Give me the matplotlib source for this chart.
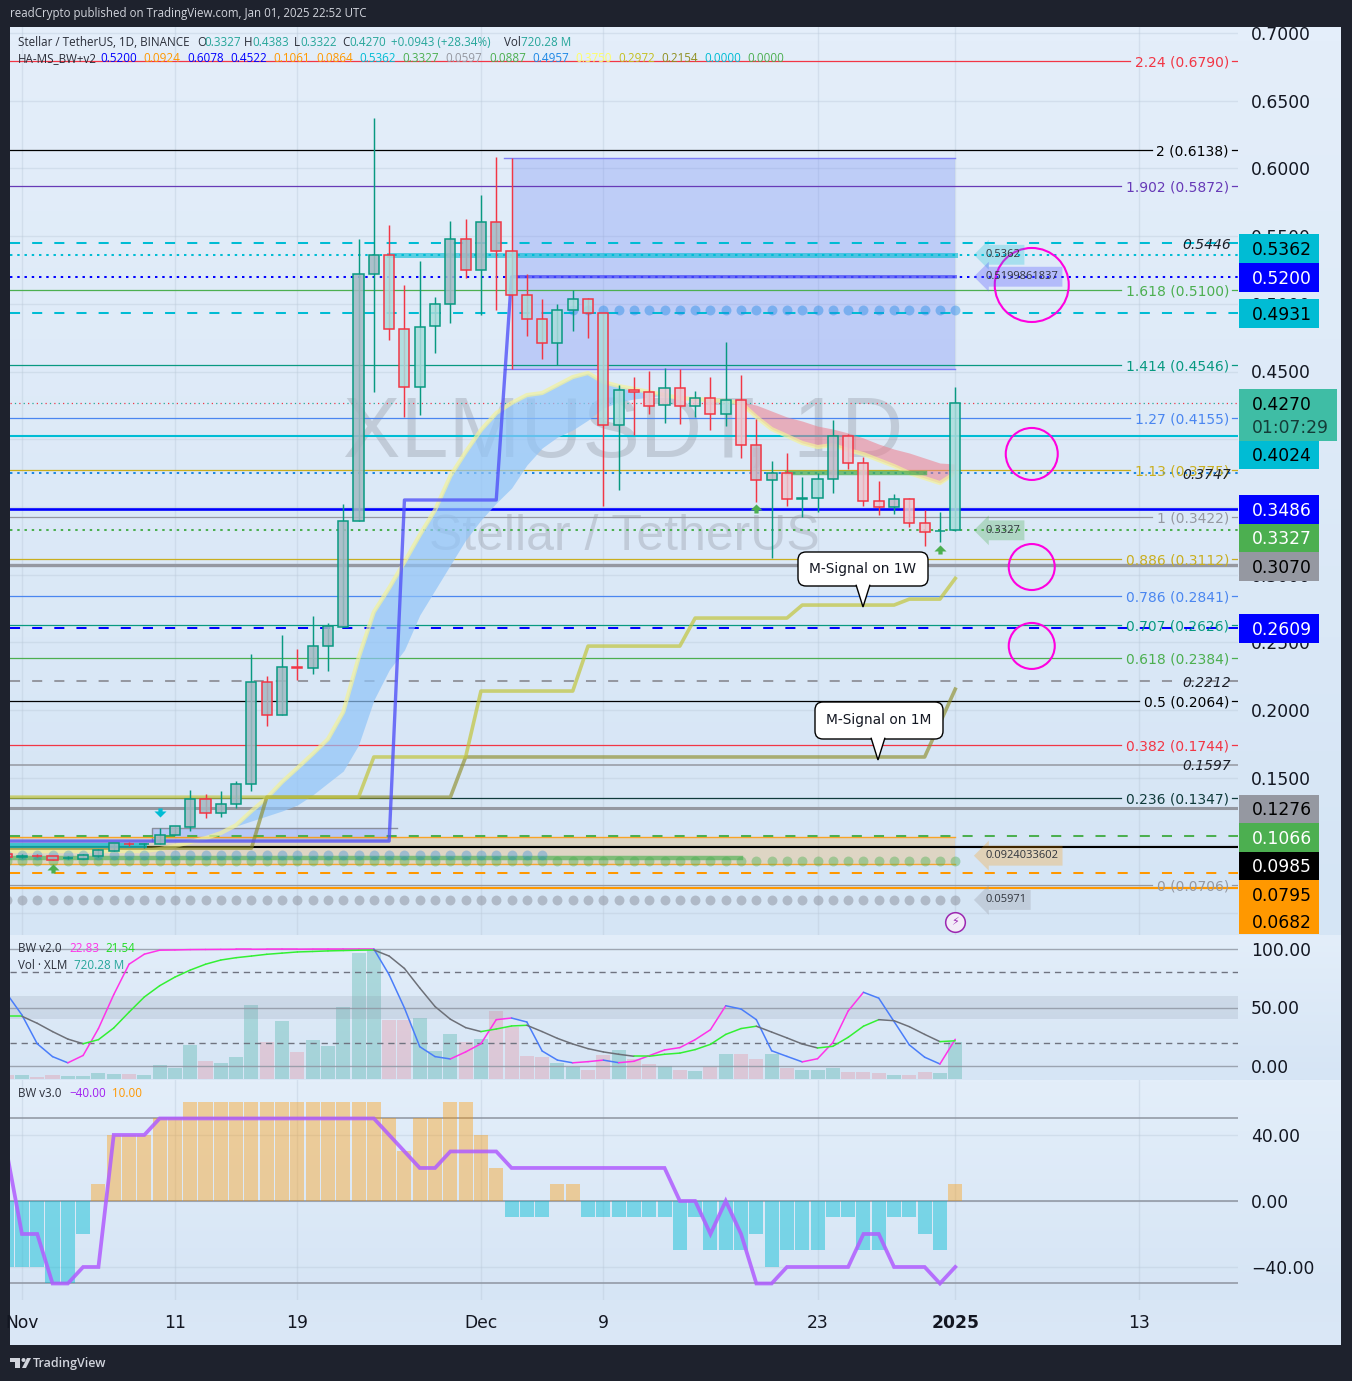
import numpy as np
import matplotlib
matplotlib.use("Agg")
import matplotlib.pyplot as plt
from matplotlib.colors import LinearSegmentedColormap, to_rgba
from matplotlib.patches import Rectangle, Polygon, FancyBboxPatch, Circle
from matplotlib.path import Path
from matplotlib.transforms import Affine2D

W, H = 1352, 1381
BG = '#1e222d'
SANS = ['Open Sans', 'DejaVu Sans']

# ---------------------------------------------------------------- data
days = list(range(-31, 32))   # days relative to 1 Dec 2024
opens = [.0936,.0914,.0923,.0921,.0904,.0901,.0921,.0958,.1014,.1010,.1010,.1077,.1136,.1343,.1239,.1305,.1453,.2206,.1963,.2317,.2310,.2472,.2613,.3396,.5220,.5360,.4814,.4385,.4835,.4998,.5479,.5250,.5604,.5390,.5065,.4888,.4710,.4954,.5035,.4932,.4105,.4363,.4349,.4252,.4378,.4245,.4304,.4186,.4289,.3957,.3698,.3750,.3562,.3565,.3706,.4024,.3824,.3543,.3499,.3558,.3381,.3321,.3327]
highs = [.0951,.0936,.0936,.0921,.0921,.0936,.0973,.1017,.1027,.1017,.1128,.1143,.1409,.1379,.1401,.1475,.2413,.2251,.2553,.2450,.2694,.2642,.3521,.5479,.6372,.5582,.5139,.5316,.5050,.5611,.5626,.5803,.6084,.6077,.5220,.5035,.4998,.5102,.5043,.4932,.4400,.4459,.4504,.4526,.4518,.4356,.4459,.4718,.4474,.4149,.3839,.3898,.3721,.3750,.4142,.4038,.3868,.3691,.3595,.3566,.3477,.3462,.4383]
lows = [.0906,.0906,.0914,.0892,.0899,.0899,.0914,.0958,.0995,.0980,.1010,.1077,.1106,.1202,.1209,.1276,.1401,.1881,.1963,.2221,.2266,.2288,.2613,.3396,.4349,.4733,.4164,.4179,.4637,.4858,.5190,.4917,.4954,.4518,.4762,.4592,.4548,.4799,.4747,.3506,.3625,.4031,.4186,.4120,.4112,.4164,.4068,.4097,.3861,.3536,.3122,.3506,.3425,.3462,.3602,.3780,.3506,.3440,.3447,.3351,.3211,.3240,.3322]
closes = [.0914,.0921,.0921,.0894,.0906,.0926,.0966,.1017,.1010,.1014,.1077,.1143,.1343,.1239,.1305,.1453,.2206,.1963,.2317,.2313,.2472,.2620,.3396,.5220,.5360,.4814,.4385,.4828,.4998,.5479,.5250,.5604,.5390,.5065,.4888,.4710,.4954,.5035,.4932,.4105,.4363,.4349,.4245,.4378,.4245,.4304,.4186,.4289,.3957,.3698,.3750,.3558,.3565,.3706,.4024,.3824,.3543,.3499,.3558,.3381,.3314,.3325,.4270]
fills = list('ggggggggggggggggggggggggg' + 'tttt' + 'gggg' + 'tttttttt' + 'ppppppt' + 'pqqpgtqpppqppgt')

ma_vals = [.0958,.0958,.0958,.0958,.0958,.0958,.0958,.0958,.0958,.0958,.0973,.0995,.1025,.1054,.1091,.1150,.1254,.1350,.1468,.1571,.1675,.1785,.1985,.2384,.2724,.2901,.3093,.3292,.3477,.3728,.3905,.4068,.4193,.4267,.4326,.4341,.4400,.4459,.4489,.4422,.4393,.4371,.4349,.4326,.4304,.4297,.4289,.4282,.4267,.4164,.4075,.4024,.3972,.3942,.3957,.3920,.3890,.3846,.3802,.3750,.3713,.3676,.3750]
band_up_days = list(range(-16, 13))
band_up_low = [.1143,.1180,.1217,.1254,.1298,.1372,.1461,.1549,.1741,.2073,.2295,.2443,.2701,.2886,.3071,.3255,.3403,.3528,.3639,.3809,.3935,.4016,.4068,.4141,.4230,.4275,.4297,.4311,.4326]
band_dn_days = list(range(17, 32))
band_dn_top = [.4275,.4252,.4208,.4164,.4134,.4097,.4075,.4046,.4009,.3964,.3927,.3898,.3861,.3824,.3817]

m1w_days = [-31,-8,-7,-1,0,6,7,13,14,20,21,27,28,30,31]
m1w_vals = [.1356,.1356,.1653,.1653,.2140,.2140,.2472,.2472,.2679,.2679,.2775,.2775,.2819,.2819,.2972]
m1m_days = [-31,-15,-14,-2,-1,29,31]
m1m_vals = [.0980,.0980,.1356,.1356,.1653,.1653,.2154]
hi_days = [-31,-6,-5,1,2,31]
hi_vals = [.1032,.1032,.3551,.3551,.5200,.5200]

fib_levels = ['2.24','2','1.902','1.618','1.414','1.27','1.13','1','0.886','0.786','0.707','0.618','0.5','0.382','0.236','0']
fib_prices = [.6790,.6138,.5872,.5100,.4546,.4155,.3775,.3422,.3112,.2841,.2626,.2384,.2064,.1744,.1347,.0706]
fib_colors = ['#f23645','#000000','#673ab7','#4caf50','#089981','#4a86f0','#c9ae1e','#9598a1','#c9ae1e','#4a86f0','#089981','#4caf50','#000000','#f23645','#0f3a3a','#9598a1']

k_vals = [62,43.6,19,8,2.7,9,32,61,87,95.6,99,99.2,99.5,99.6,99.7,99.8,99.8,99.9,99.9,99.9,100,100,100,100,100,78,49.6,16.5,8,6,12,19,39.6,41,37.6,12.8,5,2.7,3.7,5,2.8,4,8.8,13.7,15.7,22.5,31,51.5,48.7,39.6,13,8.2,3.5,6.2,20,47,63,58,38,18,7.5,1.7,22.83]
d_vals = [42.5,42.5,36.5,29.4,23,19,22.5,32.5,46,59,68.6,76,82,87,90.6,92.6,94,95.5,96.5,97.5,97.9,98.4,98.7,99,99.2,94,83.4,66.7,50.8,40,32.8,29.4,31.6,34.2,34.8,29.4,23.6,18.8,14.8,12,10,8.3,8.3,10,11,14,18.5,27,32,34,29,24,18.8,15.4,16.8,24.5,34,39.6,38.7,33.6,27,20.8,21.54]
volumes = [79,79,33,79,59,59,118,98,98,79,275,216,668,354,314,432,1454,727,1140,531,766,648,1415,2476,2535,1159,1159,1199,550,884,727,786,1336,1022,452,432,314,236,177,472,570,393,295,255,177,157,242,491,491,393,491,216,177,177,216,138,138,118,79,79,138,118,720.28]

bw3_bars = [-40,-40,-40,-50,-50,-20,10,40,40,40,50,50,60,60,60,60,60,60,60,60,60,60,60,60,60,50,30,50,50,60,60,40,20,-10,-10,-10,10,10,-10,-10,-10,-10,-10,-10,-30,-10,-30,-30,-30,-20,-40,-30,-30,-30,-10,-10,-30,-30,-10,-10,-20,-30,10]
bw3_line = [30,-20,-20,-50,-50,-40,-40,40,40,40,50,50,50,50,50,50,50,50,50,50,50,50,50,50,50,40,30,20,20,30,30,30,30,20,20,20,20,20,20,20,20,20,20,20,0,0,-20,0,-20,-50,-50,-40,-40,-40,-40,-40,-20,-20,-40,-40,-40,-50,-40]

price_ticks = [.70,.65,.60,.55,.50,.45,.40,.35,.30,.25,.20,.15,.10,.05]
time_ticks = [-30,-20,-12,0,8,22,31,43]
time_labels = ['Nov','11','19','Dec','9','23','2025','13']

# ---------------------------------------------------------------- layout
fig = plt.figure(figsize=(W/100, H/100), dpi=100, facecolor=BG)
PX = Affine2D().scale(1/W, -1/H).translate(0, 1) + fig.transFigure

def rect(x0, y0, x1, y1):
    return [x0/W, 1-y1/H, (x1-x0)/W, (y1-y0)/H]

def backdrop(y0, y1, c0, c1):
    a = fig.add_axes(rect(10, y0, 1341, y1), zorder=-5)
    a.imshow(np.linspace(0, 1, 64)[:, None], aspect='auto',
             cmap=LinearSegmentedColormap.from_list('b', [c0, c1]))
    a.axis('off')

backdrop(27, 935, '#e4eefa', '#d5e5f5')
backdrop(935, 1080, '#e3eefa', '#d6e5f5')
backdrop(1080, 1300, '#e3eefa', '#d6e5f5')
backdrop(1300, 1345, '#d8e6f5', '#dbe8f7')

ax = fig.add_axes(rect(10, 27, 1238, 935), zorder=2)
ax2 = fig.add_axes(rect(10, 935, 1238, 1080), zorder=2)
ax2v = ax2.twinx()
ax2v.set_zorder(1)
ax3 = fig.add_axes(rect(10, 1080, 1238, 1300), zorder=2)

XLIM = (-30.78, 49.48)
for a in (ax, ax2, ax2v, ax3):
    a.set_xlim(*XLIM)
    a.patch.set_visible(False)
    for s in a.spines.values():
        s.set_visible(False)
for a in (ax, ax2, ax3):
    a.yaxis.tick_right()
    a.set_xticks(time_ticks)
    a.grid(True, color='#b9c8d8', lw=1.0, alpha=0.38, zorder=0)
    a.set_axisbelow(True)
    a.tick_params(axis='y', length=0, pad=9.4, labelsize=12.3, labelcolor='#131722', right=False)
    a.tick_params(axis='x', length=0)
ax.tick_params(axis='x', labelbottom=False)
ax2.tick_params(axis='x', labelbottom=False)
ax3.set_xticklabels(time_labels, fontsize=12.3, color='#131722')
ax3.tick_params(axis='x', pad=10)
ax3.get_xticklabels()[6].set_fontweight('bold')

ax.set_ylim(0.7 - 902/1354, 0.7 + 6/1354)
ax.set_yticks(price_ticks)
ax.set_yticklabels([f'{v:.4f}' for v in price_ticks])

ax2.set_ylim(-12, 112)
ax2.set_yticks([100, 50, 0])
ax2.set_yticklabels(['100.00', '50.00', '0.00'])
ax2.grid(False, axis='y')
ax2v.set_ylim(-20, 2830)
ax2v.set_yticks([])
ax2v.set_xticks([])

ax3.set_ylim(-60, 73.3)
ax3.set_yticks([40, 0, -40])
ax3.set_yticklabels(['40.00', '0.00', '\u221240.00'])

# ---------------------------------------------------------------- watermark
ax.text(623, 435, 'XLMUSDT, 1D', transform=PX, ha='center', va='center', fontsize=62,
        family='Liberation Sans', color='#787b86', alpha=0.27, zorder=0.6)
ax.text(624, 537, 'Stellar / TetherUS', transform=PX, ha='center', va='center', fontsize=36,
        family='Liberation Sans', color='#787b86', alpha=0.27, zorder=0.6)

# ---------------------------------------------------------------- boxes and horizontal levels
ax.fill_between([2, 31], .4522, .6078, color='#6f86f5', alpha=0.3, lw=0, zorder=1)
ax.plot([1.5, 31], [.6078, .6078], color='#7f7ff5', lw=1, zorder=1.2)
ax.plot([1.5, 31], [.4522, .4522], color='#7f7ff5', lw=1, zorder=1.2)
ax.fill_between([-21.5, -6], .1032, .1128, color='#6f86f5', alpha=0.3, lw=0, zorder=1)
ax.plot([-21.5, -21.5, -5.5], [.1032, .1128, .1128], color='#8a8f9c', lw=1, zorder=1.2)
ax.fill_between([-31, 31], .0864, .1061, color='#ff9800', alpha=0.2, lw=0, zorder=1)
ax.plot([-31, 31], [.1061, .1061], color='#ff9800', lw=1, alpha=.8, zorder=1.2)
ax.plot([-31, 31], [.0864, .0864], color='#ff9800', lw=1, alpha=.8, zorder=1.2)

renderer = fig.canvas.get_renderer()
to_data = ax.transData.inverted()

def right_label(text, price, color, style='normal', off=-9):
    return ax.annotate(text, xy=(1, price), xycoords=('axes fraction', 'data'),
                       xytext=(off, 0), textcoords='offset pixels', ha='right', va='center_baseline',
                       fontsize=10, color=color, style=style, zorder=9)

for lev, p, c in zip(fib_levels, fib_prices, fib_colors):
    t = right_label(f'{lev} ({p:.4f})', p, c)
    x0 = t.get_window_extent(renderer).x0
    xd = to_data.transform((x0 - 5, 0))[0]
    ax.plot([XLIM[0], xd], [p, p], color=c, lw=0.9, zorder=2)
    ax.plot([to_data.transform((1232 * 1.0, 0))[0], XLIM[1]], [p, p], color=c, lw=0.9, zorder=2)

DASH = (0, (5, 6))
DOT = (0, (1.2, 2.4))
solid_levels = [(.4024, '#00bcd4', 1.5), (.3486, '#0000ff', 1.9), (.3070, '#9598a1', 2.4), (.1276, '#9598a1', 2.2),
                (.0985, '#000000', 1.5), (.0682, '#ff9800', 1.6), (.1597, '#9598a1', 1.1)]
for p, c, lw in solid_levels:
    ax.axhline(p, color=c, lw=lw, zorder=2.2)
dash_levels = [(.5446, '#00bcd4'), (.4931, '#00bcd4'), (.2609, '#0000ff'), (.2212, '#9598a1'), (.1066, '#4caf50'), (.0795, '#ff9800')]
for p, c in dash_levels:
    ax.axhline(p, color=c, lw=1.45, ls=DASH, zorder=2.2)
dot_levels = [(.5362, '#00bcd4'), (.5200, '#0000ff'), (.3747, '#1e88e5'), (.3327, '#4caf50')]
for p, c in dot_levels:
    ax.axhline(p, color=c, lw=1.45, ls=DOT, zorder=2.2)
ax.axhline(.4270, color='#f23645', lw=0.9, ls=(0, (1, 6)), zorder=2.2)
ax.axhline(.4270, color='#26a69a', lw=0.9, ls=(3.5, (1, 6)), zorder=2.2)
for txt, p in [('0.5446', .5446), ('0.3747', .3747), ('0.2212', .2212), ('0.1597', .1597)]:
    right_label(txt, p, '#1c1f28', style='italic', off=-7)

# ---------------------------------------------------------------- indicator bands and lines
ma_up = [ma_vals[days.index(d)] for d in band_up_days]
ma_dn = [ma_vals[days.index(d)] for d in band_dn_days]
ax.fill_between(band_up_days, band_up_low, ma_up, color='#90c4f8', alpha=0.7, lw=0, zorder=2.5)
ax.fill_between(band_dn_days, ma_dn, band_dn_top, color='#ef7d8c', alpha=0.55, lw=0, zorder=2.5)
ax.plot(days, ma_vals, color='#f3f29a', lw=3, alpha=0.7, zorder=3)
ax.plot(m1m_days, m1m_vals, color='#8f8f2c', lw=2.6, alpha=0.65, zorder=3.1)
ax.plot(m1w_days, m1w_vals, color='#c2c53c', lw=2.6, alpha=0.7, zorder=3.2)
ax.plot(hi_days, hi_vals, color='#4f4ff8', lw=2.4, alpha=0.78, zorder=3.3)
ax.plot([-6, 31], [.5362, .5362], color='#00bcd4', lw=3.6, alpha=0.6, zorder=3.3)
ax.plot([-31, -22], [.1000, .1000], color='#00bcd4', lw=3.6, alpha=0.7, zorder=3.3)
ax.plot([-31, 17], [.0905, .0905], color='#4caf50', lw=3.2, alpha=0.65, zorder=3.3)
ax.plot([20, 29], [.3750, .3750], color='#4caf50', lw=3.2, alpha=0.75, zorder=3.3)

dot_rows = [([d for d in days if d >= 6], .4957, '#1e88e5', .42),
            (days, .0597, '#8a8e9a', .5),
            (days, .0885, '#4caf50', .42),
            ([d for d in days if d <= 4], .0930, '#1e88e5', .33)]
for ds, p, c, al in dot_rows:
    ax.scatter(ds, [p]*len(ds), s=(9*.72*1.1)**2, color=c, alpha=al, lw=0, zorder=3.5)

# ---------------------------------------------------------------- candles
FILL = {'g': '#a3b9c3', 't': '#abdcdc', 'p': '#ebc8d2', 'q': '#c4b9c9'}
up_c, dn_c = '#089981', '#f23645'
for d, o, h, l, c, f in zip(days, opens, highs, lows, closes, fills):
    col = up_c if c >= o else dn_c
    ax.plot([d, d], [l, h], color=col, lw=1.05, zorder=5, solid_capstyle='butt')
    ax.add_patch(Rectangle((d-0.33, min(o, c)), 0.66, abs(c-o), facecolor=to_rgba(FILL[f], .85),
                           edgecolor=col, lw=1.1, zorder=5.1))

# arrows
ARROW = Path([(-.35, 0), (-.35, .5), (-1, .5), (0, 1.5), (1, .5), (.35, .5), (.35, 0), (-.35, 0)])
ARROW_DN = Path([(-.35, 1.5), (-.35, 1), (-1, 1), (0, 0), (1, 1), (.35, 1), (.35, 1.5), (-.35, 1.5)])
ax.scatter([18, 30, -28], [.3455, .3152, .0796], marker=ARROW, s=170, color='#4caf50', lw=0, zorder=6)
ax.scatter([-21], [.1209], marker=ARROW_DN, s=170, color='#00bcd4', lw=0, zorder=6)

# circles
circle_x = [36, 36, 36, 36]
circle_y = [.5139, .3891, .3056, .2473]
circle_r = [37, 26, 23, 23]
ax.scatter(circle_x, circle_y, s=[(2*r*.72)**2 for r in circle_r], facecolors='none',
           edgecolors='#ff00e0', lw=1.5, zorder=7, clip_on=False)

# lightning badge
ax.scatter([31], [.0434], s=200, facecolor='#f2ecf8', edgecolor='#9c27b0', lw=1.1, zorder=7)
ax.text(31, .0434, '\u26a1', ha='center', va='center', fontsize=8, color='#9c27b0',
        family='DejaVu Sans', zorder=8)

# tags
tags = [('0.5362', .5362, '#00bcd4', .25), ('0.5199861837', .5200, '#5a5aff', .33),
        ('0.3327', .3327, '#4caf50', .3), ('0.0924033602', .0924, '#ff9800', .25), ('0.05971', .0597, '#9598a1', .3)]
for txt, p, c, al in tags:
    ax.text(32.95, p, txt, ha='left', va='center', fontsize=8, family=SANS, color='#30343c', zorder=7,
            bbox=dict(boxstyle='larrow,pad=0.4', fc=to_rgba(c, al), ec='none'))

# callouts
def callout(txt, x0, y0, x1, y1, tipx, tipy):
    box = FancyBboxPatch((x0+6, y0+6), x1-x0-12, y1-y0-12, boxstyle='round,pad=6,rounding_size=8',
                         fc='white', ec='#000000', lw=1, transform=PX, zorder=8)
    ax.add_patch(box)
    ax.add_patch(Polygon([(tipx-7, y1-1.3), (tipx, tipy), (tipx+7, y1-1.3)], closed=False, fc='white', ec='#000000',
                         lw=1, transform=PX, zorder=8.1))
    ax.text((x0+x1)/2, (y0+y1)/2, txt, transform=PX, ha='center', va='center', fontsize=9.9,
            color='#131722', zorder=8.2)
callout('M-Signal on 1W', 798, 552, 928, 586, 863, 607)
callout('M-Signal on 1M', 815, 702, 943, 739, 878, 760)

# ---------------------------------------------------------------- price badges
badges = [('0.5362', 234, 263, '#00bcd4', '#000000'), ('0.5200', 263, 292, '#0000ff', '#ffffff'),
          ('0.4931', 299, 328, '#00bcd4', '#000000'), ('0.4024', 441, 469, '#00bcd4', '#000000'),
          ('0.3486', 495, 524, '#0000ff', '#ffffff'), ('0.3327', 524, 552, '#4caf50', '#ffffff'),
          ('0.3070', 552, 581, '#9598a1', '#000000'), ('0.2609', 614, 643, '#0000ff', '#ffffff'),
          ('0.1276', 795, 823, '#9598a1', '#000000'), ('0.1066', 823, 852, '#4caf50', '#ffffff'),
          ('0.0985', 852, 880, '#000000', '#ffffff'), ('0.0795', 880, 909, '#ff9800', '#000000'),
          ('0.0682', 909, 934, '#ff9800', '#000000')]
for txt, y0, y1, bg, fg in badges:
    fig.add_artist(Rectangle((1239, y0), 80, y1-y0, transform=PX, fc=bg, ec='none', zorder=4))
    fig.text(1252, (y0+y1)/2+1.3, txt, transform=PX, ha='left', va='center', fontsize=12.3, color=fg, zorder=5)
fig.add_artist(Rectangle((1239, 389), 98, 52, transform=PX, fc='#3fbda5', ec='none', zorder=4))
fig.text(1252, 405, '0.4270', transform=PX, ha='left', va='center', fontsize=12.3, color='#000000', zorder=5)
fig.text(1252, 428, '01:07:29', transform=PX, ha='left', va='center', fontsize=12.3, color='#143c38', zorder=5)

# ---------------------------------------------------------------- BW v2 pane
ax2.axhspan(40, 60, color='#8a96a8', alpha=0.2, lw=0, zorder=1)
for v in (100, 50, 0):
    ax2.axhline(v, color='#8d94a0', lw=1, alpha=.8, zorder=2)
for v in (80, 20):
    ax2.axhline(v, color='#6f7380', lw=1, ls=(0, (4.5, 3.5)), zorder=2)
for i in range(len(days)-1):
    k0, k1 = k_vals[i], k_vals[i+1]
    d0, d1 = d_vals[i], d_vals[i+1]
    ax2.plot(days[i:i+2], [k0, k1], color='#ff33e8' if k1 >= k0 else '#4a7dfa', lw=1.1, zorder=3, solid_capstyle='round')
    ax2.plot(days[i:i+2], [d0, d1], color='#33f033' if d1 >= d0 else '#6d7078', lw=1.1, zorder=3, solid_capstyle='round')
vol_colors = [to_rgba('#089981', .24) if c >= o else to_rgba('#f23645', .17) for o, c in zip(opens, closes)]
ax2v.bar(days, volumes, width=0.92, color=vol_colors, lw=0)

# ---------------------------------------------------------------- BW v3 pane
for v in (50, -50, 0):
    ax3.axhline(v, color='#8d94a0', lw=1.1, zorder=2)
ax3.bar(days, bw3_bars, width=0.92,
        color=[to_rgba('#ff9800', .38) if v > 0 else to_rgba('#00bcd4', .45) for v in bw3_bars], lw=0, zorder=2.5)
ax3.plot(days, bw3_line, color='#b05cff', lw=2.7, alpha=0.85, zorder=3, solid_joinstyle='miter')

# ---------------------------------------------------------------- legends and header
def row(y, items, size=8.4):
    for x, txt, col in items:
        fig.text(x, y, txt, transform=PX, ha='left', va='center', fontsize=size, family=SANS, color=col, zorder=6)

T = '#26a69a'
D = '#2a2e39'
row(14, [(10, 'readCrypto published on TradingView.com, Jan 01, 2025 22:52 UTC', '#d1d4dc')], 8.3)
row(42, [(18, 'Stellar / TetherUS, 1D, BINANCE', D), (197, 'O', D), (204, '0.3327', T), (244, 'H', D), (252, '0.4383', T),
         (294, 'L', D), (300, '0.3322', T), (342, 'C', D), (349, '0.4270', T), (391, '+0.0943 (+28.34%)', T),
         (504, 'Vol', D), (521, '720.28 M', T)])
row(59, [(18, 'HA-MS_BW+v2', D)] + list(zip(
    [100, 143, 187, 230, 273, 316, 359, 402, 445, 489, 532, 575, 618, 661, 704, 747],
    ['0.5200', '0.0924', '0.6078', '0.4522', '0.1061', '0.0864', '0.5362', '0.3327', '0.0597', '0.0887', '0.4957', '0.3750', '0.2972', '0.2154', '0.0000', '0.0000'],
    ['#0000ff', '#ff9800', '#0000ff', '#0000ff', '#ff9800', '#ff9800', '#00bcd4', '#4caf50', '#9598a1', '#4caf50', '#1e88e5', '#ffff66', '#c4c020', '#8f8f20', '#00bcd4', '#4caf50'])))
row(949, [(18, 'BW v2.0', D), (69, '22.83', '#ff33e8'), (105, '21.54', '#22dd22')])
row(966, [(18, 'Vol \u00b7 XLM', D), (74, '720.28 M', T)])
row(1094, [(18, 'BW v3.0', D), (69, '\u221240.00', '#a020f0'), (112, '10.00', '#ff9800')])

# logo
LOGO = '#d1d4dc'
fig.add_artist(Rectangle((10, 1358), 10, 4, transform=PX, fc=LOGO, ec='none'))
fig.add_artist(Rectangle((15, 1358), 5, 10, transform=PX, fc=LOGO, ec='none'))
fig.add_artist(Circle((23.5, 1360), 2, transform=PX, fc=LOGO, ec='none'))
fig.add_artist(Polygon([(27, 1358), (31, 1358), (26, 1368), (22, 1368)], transform=PX, fc=LOGO, ec='none'))
fig.text(33, 1363.5, 'TradingView', transform=PX, ha='left', va='center', fontsize=9, family=SANS, weight='semibold', color=LOGO)

fig.savefig('out.png', dpi=100, facecolor=BG)
